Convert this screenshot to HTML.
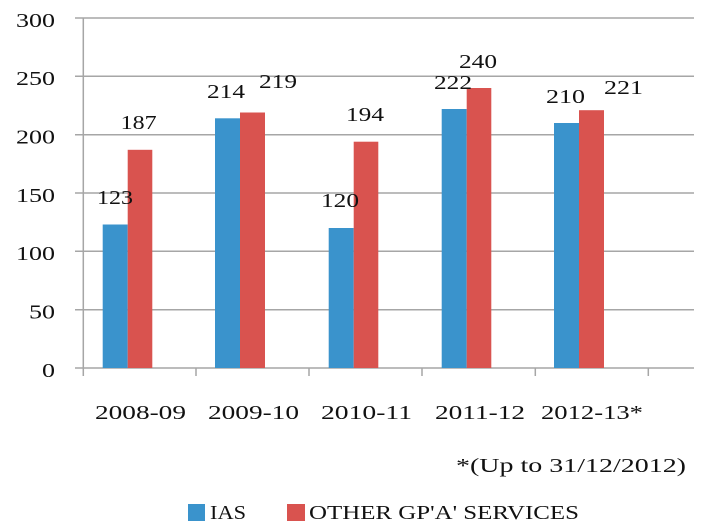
<!DOCTYPE html>
<html><head><meta charset="utf-8"><style>body{margin:0;background:#fff}svg{display:block}</style></head><body>
<svg width="711" height="522" xmlns="http://www.w3.org/2000/svg" font-family="Liberation Serif, serif" font-size="20" fill="#111">
<g stroke="#a6a6a6" stroke-width="1.5">
<line x1="75" y1="18" x2="694" y2="18"/><line x1="75" y1="76.3" x2="694" y2="76.3"/>
<line x1="75" y1="134.7" x2="694" y2="134.7"/><line x1="75" y1="193" x2="694" y2="193"/>
<line x1="75" y1="251.3" x2="694" y2="251.3"/><line x1="75" y1="309.7" x2="694" y2="309.7"/>
<line x1="75" y1="368" x2="694" y2="368"/>
<line x1="83.3" y1="18" x2="83.3" y2="376"/>
<line x1="196" y1="368" x2="196" y2="376"/><line x1="309" y1="368" x2="309" y2="376"/>
<line x1="422" y1="368" x2="422" y2="376"/><line x1="535.3" y1="368" x2="535.3" y2="376"/>
<line x1="648.3" y1="368" x2="648.3" y2="376"/>
</g>
<g>
<text x="16" y="27" textLength="39" lengthAdjust="spacingAndGlyphs">300</text>
<text x="16" y="85" textLength="39" lengthAdjust="spacingAndGlyphs">250</text>
<text x="16" y="143.5" textLength="39" lengthAdjust="spacingAndGlyphs">200</text>
<text x="16" y="202" textLength="39" lengthAdjust="spacingAndGlyphs">150</text>
<text x="16" y="260" textLength="39" lengthAdjust="spacingAndGlyphs">100</text>
<text x="29" y="318.5" textLength="26" lengthAdjust="spacingAndGlyphs">50</text>
<text x="42" y="377" textLength="13" lengthAdjust="spacingAndGlyphs">0</text>
</g>
<g fill="#3a93cc">
<rect x="102.7" y="224.5" width="25" height="143.5"/>
<rect x="215" y="118.3" width="25" height="249.7"/>
<rect x="328.7" y="228" width="25" height="140"/>
<rect x="441.7" y="109" width="25" height="259"/>
<rect x="554" y="123" width="25" height="245"/>
</g>
<g fill="#d9534f">
<rect x="127.7" y="149.8" width="24.6" height="218.2"/>
<rect x="240" y="112.5" width="25" height="255.5"/>
<rect x="353.7" y="141.7" width="24.6" height="226.3"/>
<rect x="466.7" y="88" width="24.6" height="280"/>
<rect x="579" y="110.2" width="25" height="257.8"/>
</g>
<text x="97" y="204" textLength="36" lengthAdjust="spacingAndGlyphs">123</text>
<text x="120.7" y="129" textLength="36" lengthAdjust="spacingAndGlyphs">187</text>
<text x="207" y="98" textLength="38" lengthAdjust="spacingAndGlyphs">214</text>
<text x="259" y="88" textLength="38" lengthAdjust="spacingAndGlyphs">219</text>
<text x="321" y="207" textLength="38" lengthAdjust="spacingAndGlyphs">120</text>
<text x="346" y="121" textLength="38" lengthAdjust="spacingAndGlyphs">194</text>
<text x="434" y="89" textLength="38" lengthAdjust="spacingAndGlyphs">222</text>
<text x="459" y="68" textLength="38" lengthAdjust="spacingAndGlyphs">240</text>
<text x="546" y="103" textLength="39" lengthAdjust="spacingAndGlyphs">210</text>
<text x="604" y="94" textLength="39" lengthAdjust="spacingAndGlyphs">221</text>
<text x="95" y="419" textLength="91" lengthAdjust="spacingAndGlyphs">2008-09</text>
<text x="208" y="419" textLength="91" lengthAdjust="spacingAndGlyphs">2009-10</text>
<text x="321" y="419" textLength="91" lengthAdjust="spacingAndGlyphs">2010-11</text>
<text x="435" y="419" textLength="90" lengthAdjust="spacingAndGlyphs">2011-12</text>
<text x="541" y="419" textLength="102" lengthAdjust="spacingAndGlyphs">2012-13*</text>
<text x="456" y="472" textLength="230" lengthAdjust="spacingAndGlyphs">*(Up to 31/12/2012)</text>
<rect x="188" y="504" width="17" height="17" fill="#3a93cc"/>
<text x="210" y="519" textLength="36" lengthAdjust="spacingAndGlyphs">IAS</text>
<rect x="287" y="504" width="18" height="17" fill="#d9534f"/>
<text x="309" y="519" textLength="270" lengthAdjust="spacingAndGlyphs">OTHER GP'A' SERVICES</text>
</svg>
</body></html>
